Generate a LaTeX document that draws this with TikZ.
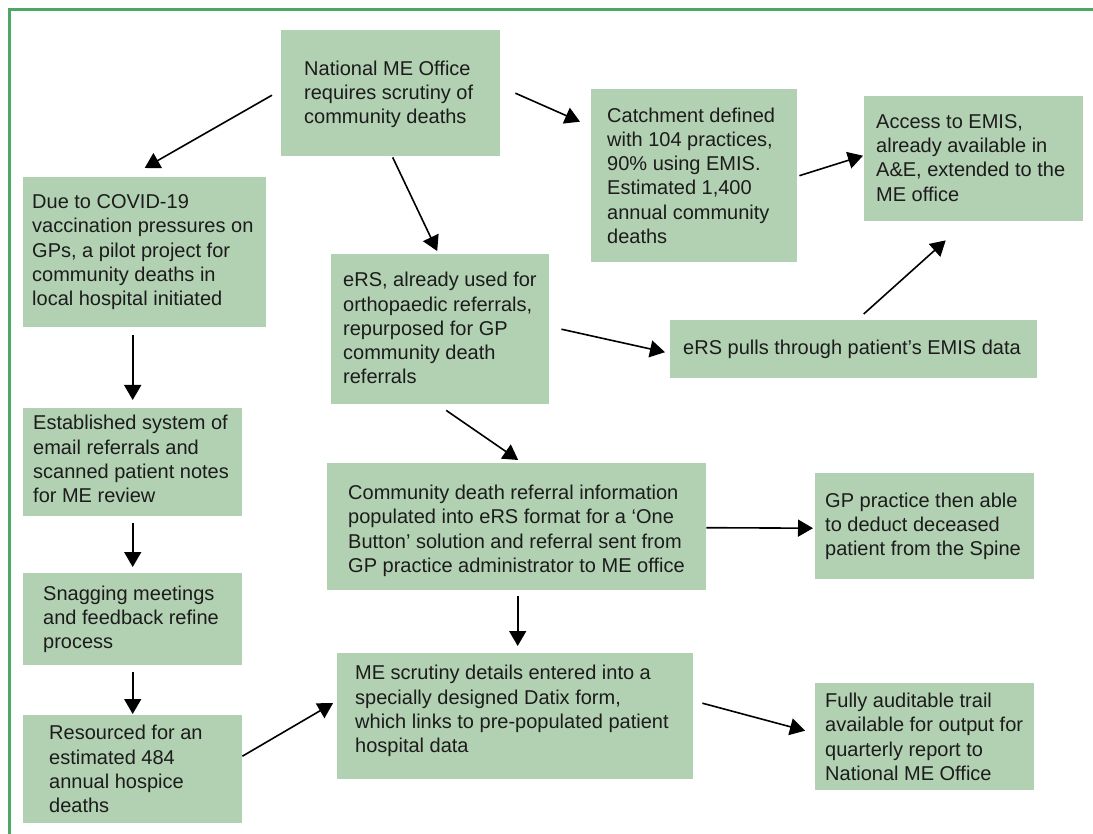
\documentclass[tikz,border=0pt]{standalone}
\usepackage{fontspec}
\setmainfont{Liberation Sans}
\usetikzlibrary{calc,arrows.meta}
\definecolor{boxg}{RGB}{178,208,178}
\definecolor{frameg}{RGB}{76,168,98}
\definecolor{txtc}{RGB}{28,28,28}
\tikzset{
  box/.style={fill=boxg, draw=none, inner sep=0pt, anchor=north west},
  txt/.style={anchor=west, align=left, inner sep=0pt, text=txtc,
    font=\fontsize{20}{24.3}\selectfont},
  arr/.style={draw=black, line width=1.6pt, -{Triangle[length=15pt,width=17pt]}}
}
\begin{document}
\begin{tikzpicture}[x=1pt,y=-1pt]
\clip (0,0) rectangle (1093,834);
\fill[white] (0,0) rectangle (1093,834);
\draw[frameg, line width=3pt] (9,10) rectangle (1120,860);

% boxes
\node[box, minimum width=219, minimum height=126] (nat) at (281,30) {};
\node[box, minimum width=206, minimum height=173] (catch) at (591,89) {};
\node[box, minimum width=219, minimum height=125] (acc) at (864,96) {};
\node[box, minimum width=243, minimum height=150] (due) at (23,177) {};
\node[box, minimum width=218, minimum height=150] (ers) at (331,254) {};
\node[box, minimum width=367, minimum height=58] (pulls) at (670,320) {};
\node[box, minimum width=219, minimum height=108] (est) at (23,408) {};
\node[box, minimum width=379, minimum height=127] (comm) at (327,463) {};
\node[box, minimum width=219, minimum height=106] (gp) at (815,473) {};
\node[box, minimum width=219, minimum height=92] (snag) at (23,573) {};
\node[box, minimum width=356, minimum height=126] (me) at (337,653) {};
\node[box, minimum width=219, minimum height=108] (res) at (23,715) {};
\node[box, minimum width=219, minimum height=107] (fully) at (815,683) {};

% texts
\node[txt] (tnat) at ($(nat.west)+(23,1)$) {National ME Office\\requires scrutiny of\\community deaths};
\node[txt] (tcatch) at ($(catch.west)+(16,0)$) {Catchment defined\\with 104 practices,\\90\% using EMIS.\\Estimated 1,400\\annual community\\deaths};
\node[txt] (tacc) at ($(acc.west)+(12,-1)$) {Access to EMIS,\\already available in\\A\&E, extended to the\\ME office};
\node[txt] (tdue) at ($(due.west)+(9,0)$) {Due to COVID-19\\vaccination pressures on\\GPs, a pilot project for\\community deaths in\\local hospital initiated};
\node[txt] (ters) at ($(ers.west)+(12,-1)$) {eRS, already used for\\orthopaedic referrals,\\repurposed for GP\\community death\\referrals};
\node[txt] (tpulls) at ($(pulls.west)+(13,0)$) {eRS pulls through patient’s EMIS data};
\node[txt] (test) at ($(est.west)+(10,-3)$) {Established system of\\email referrals and\\scanned patient notes\\for ME review};
\node[txt] (tcomm) at ($(comm.west)+(21,4)$) {Community death referral information\\populated into eRS format for a ‘One\\Button’ solution and referral sent from\\GP practice administrator to ME office};
\node[txt] (tgp) at ($(gp.west)+(10,0)$) {GP practice then able\\to deduct deceased\\patient from the Spine};
\node[txt] (tsnag) at ($(snag.west)+(20,0)$) {Snagging meetings\\and feedback refine\\process};
\node[txt] (tme) at ($(me.west)+(18,-5)$) {ME scrutiny details entered into a\\specially designed Datix form,\\which links to pre-populated patient\\hospital data};
\node[txt] (tres) at ($(res.west)+(26,0)$) {Resourced for an\\estimated 484\\annual hospice\\deaths};
\node[txt] (tfully) at ($(fully.west)+(10,0)$) {Fully auditable trail\\available for output for\\quarterly report to\\National ME Office};

% connectors
\draw[arr] ($(nat.west)+(-9,2)$) -- ($(due.north)+(0,-9)$);
\draw[arr] ($(nat.south)+(2,1)$) -- ($(ers.north)+(-3,-3)$);
\draw[arr] ($(nat.east)+(15,0)$) -- ($(catch.west)+(-11,-54)$);
\draw[arr] ($(catch.east)+(2,0)$) -- ($(acc.west)+(-1,-3)$);
\draw[arr] ($(pulls.north)+(10,-6)$) -- ($(acc.south)+(-28,19)$);
\draw[arr] ($(ers.east)+(12,0)$) -- ($(pulls.west)+(-5,3)$);
\draw[arr] ($(ers.south)+(6,6)$) -- ($(comm.north)+(1.5,-3)$);
\draw[arr] ($(due.south)+(-12,8)$) -- ($(est.north)+(0,-8)$);
\draw[arr] ($(est.south)+(0,7)$) -- ($(snag.north)+(0,-6)$);
\draw[arr] ($(snag.south)+(0,7)$) -- ($(res.north)+(0,-1)$);
\draw[arr] ($(res.east)+(0,-13)$) -- ($(me.west)+(-4,-13)$);
\draw[arr] ($(comm.south)+(1,6)$) -- ($(comm.south |- me.north)+(1,-7)$);
\draw[arr] ($(comm.east)+(0,1)$) -- ($(gp.west)+(-2,2)$);
\draw[arr] ($(me.east)+(9,-13)$) -- ($(fully.west)+(-10,-6)$);
\end{tikzpicture}
\end{document}
